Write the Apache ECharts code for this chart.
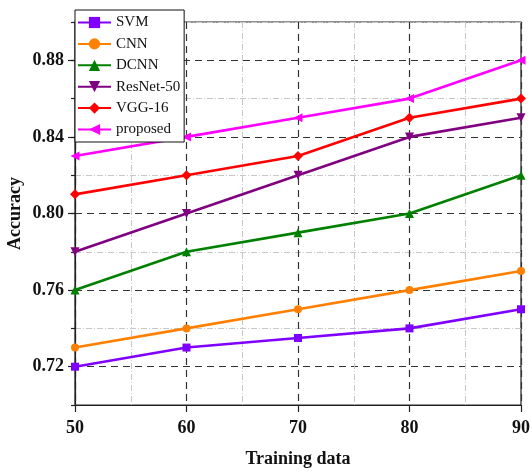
<!DOCTYPE html>
<html>
<head>
<meta charset="utf-8">
<script src="https://cdn.jsdelivr.net/npm/echarts@6/dist/echarts.min.js"></script>
<style>
  html, body { margin: 0; padding: 0; background: #ffffff; }
  #chart { width: 532px; height: 473px; }
</style>
</head>
<body>
<div id="chart"></div>
<script>
// Training data sizes (x values)
const trainingData = [50, 60, 70, 80, 90];

// Accuracy per method
const svm      = [0.72, 0.73, 0.735, 0.74, 0.75];
const cnn      = [0.73, 0.74, 0.75, 0.76, 0.77];
const dcnn     = [0.76, 0.78, 0.79, 0.80, 0.82];
const resnet50 = [0.78, 0.80, 0.82, 0.84, 0.85];
const vgg16    = [0.81, 0.82, 0.83, 0.85, 0.86];
const proposed = [0.83, 0.84, 0.85, 0.86, 0.88];

// Labelled ticks
const yMajorTicks = [0.72, 0.76, 0.80, 0.84, 0.88];
const xMajorTicks = [50, 60, 70, 80, 90];

const FONT = 'Liberation Serif';

function pairs(values) {
  return trainingData.map((x, i) => [x, values[i]]);
}

function lineSeries(name, values, color, symbol, rotate, size) {
  return {
    name: name,
    type: 'line',
    data: pairs(values),
    symbol: symbol,
    symbolRotate: rotate,
    symbolSize: size,
    showAllSymbol: true,
    lineStyle: { color: color, width: 2.6 },
    itemStyle: { color: color },
    emphasis: { disabled: true },
    z: 5
  };
}

const chart = echarts.init(document.getElementById('chart'), null, { renderer: 'canvas' });

chart.setOption({
  animation: false,
  backgroundColor: '#ffffff',
  grid: {
    left: 75, right: 11, top: 22, bottom: 68,
    containLabel: false,
    outerBoundsMode: 'none',
    show: true, borderColor: '#222', borderWidth: 1.2,
    backgroundColor: 'transparent'
  },
  legend: {
    orient: 'vertical',
    left: 75, top: 10,
    padding: [5, 4, 5, 2],
    itemGap: 6.4,
    itemWidth: 33,
    itemHeight: 14,
    backgroundColor: '#ffffff',
    borderColor: '#111',
    borderWidth: 1,
    z: 20,
    textStyle: { fontFamily: FONT, fontSize: 15, color: '#111' },
    data: ['SVM', 'CNN', 'DCNN', 'ResNet-50', 'VGG-16', 'proposed']
  },
  xAxis: {
    type: 'value',
    min: 50, max: 90, interval: 10,
    name: 'Training data',
    nameLocation: 'middle',
    nameGap: 45,
    nameMoveOverlap: false,
    nameTextStyle: { fontFamily: FONT, fontSize: 18, fontWeight: 'bold', color: '#111' },
    axisLine: { show: true, lineStyle: { color: '#222', width: 1.2 } },
    axisTick: { show: true, inside: false, length: 7, lineStyle: { color: '#222', width: 1.2 } },
    axisLabel: {
      margin: 14,
      fontFamily: FONT, fontSize: 18, fontWeight: 'bold', color: '#111',
      formatter: v => (xMajorTicks.indexOf(v) >= 0 ? String(v) : '')
    },
    splitLine: { show: true, lineStyle: { color: '#333', width: 1.2, type: [7, 5] } },
    minorTick: { show: false, splitNumber: 2 },
    minorSplitLine: { show: true, lineStyle: { color: '#c8c8c8', width: 1, type: [6, 2, 1, 2] } }
  },
  yAxis: [
    {
      // every 0.02: light dash-dot lines on the unlabelled values, short ticks
      type: 'value',
      min: 0.70, max: 0.90, interval: 0.02,
      position: 'left',
      axisLine: { show: true, lineStyle: { color: '#222', width: 1.2 } },
      axisTick: { show: true, inside: false, length: 4, lineStyle: { color: '#222', width: 1.2 } },
      axisLabel: { show: false },
      splitLine: {
        show: true,
        lineStyle: { color: ['#c8c8c8', 'rgba(0,0,0,0)'], width: 1, type: [6, 2, 1, 2] }
      }
    },
    {
      // labelled values: dark dashed lines, longer ticks
      type: 'value',
      min: 0.70, max: 0.90, interval: 0.02,
      position: 'left',
      name: 'Accuracy',
      nameLocation: 'middle',
      nameGap: 51,
      nameMoveOverlap: false,
      nameTextStyle: { fontFamily: FONT, fontSize: 18, fontWeight: 'bold', color: '#111' },
      axisLine: { show: false },
      axisTick: { show: true, inside: false, length: 7, customValues: yMajorTicks, lineStyle: { color: '#222', width: 1.2 } },
      axisLabel: {
        show: true, margin: 11, customValues: yMajorTicks,
        fontFamily: FONT, fontSize: 18, fontWeight: 'bold', color: '#111',
        formatter: v => v.toFixed(2)
      },
      splitLine: {
        show: true,
        lineStyle: { color: '#333', width: 1.2, type: [7, 5] }
      }
    }
  ],
  series: [
    lineSeries('SVM', svm, '#8000ff', 'rect', 0, 8),
    lineSeries('CNN', cnn, '#ff8000', 'circle', 0, 8),
    lineSeries('DCNN', dcnn, '#008000', 'triangle', 0, 9),
    lineSeries('ResNet-50', resnet50, '#800080', 'triangle', 180, 9),
    lineSeries('VGG-16', vgg16, '#ff0000', 'diamond', 0, 10),
    lineSeries('proposed', proposed, '#ff00ff', 'triangle', 90, 9)
  ]
});
</script>
</body>
</html>
